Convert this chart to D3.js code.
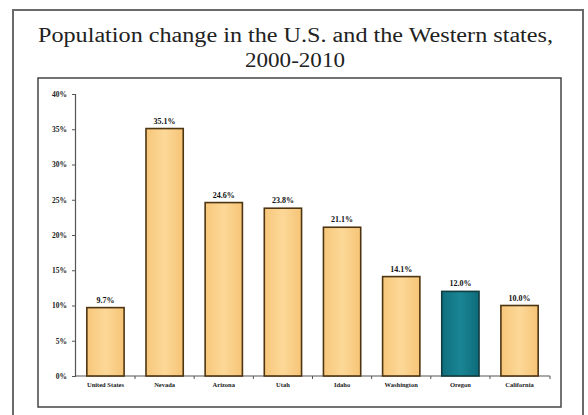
<!DOCTYPE html>
<html>
<head>
<meta charset="utf-8">
<script src="https://cdn.jsdelivr.net/npm/d3@7"></script>
<style>
  html, body { margin: 0; padding: 0; background: #fff; }
  svg { display: block; }
</style>
</head>
<body>
<svg id="chart" width="588" height="415"></svg>
<script>
// Percent population change, 2000-2010
const categories = ["United States", "Nevada", "Arizona", "Utah", "Idaho", "Washington", "Oregon", "California"];
const values = [9.7, 35.1, 24.6, 23.8, 21.1, 14.1, 12.0, 10.0];
const valueLabels = ["9.7%", "35.1%", "24.6%", "23.8%", "21.1%", "14.1%", "12.0%", "10.0%"];
const tickValues = [0, 5, 10, 15, 20, 25, 30, 35, 40];
const tickLabels = ["0%", "5%", "10%", "15%", "20%", "25%", "30%", "35%", "40%"];
const highlight = "Oregon";

const svg = d3.select("#chart");
const serif = "'Liberation Serif', 'Times New Roman', serif";

// gradient fill for the bars
const defs = svg.append("defs");
const g1 = defs.append("linearGradient").attr("id", "barFill").attr("x1", 0).attr("x2", 1).attr("y1", 0).attr("y2", 0);
g1.append("stop").attr("offset", "0%").attr("stop-color", "#f7c77a");
g1.append("stop").attr("offset", "50%").attr("stop-color", "#fcd898");
g1.append("stop").attr("offset", "100%").attr("stop-color", "#f6c476");
const g2 = defs.append("linearGradient").attr("id", "hiFill").attr("x1", 0).attr("x2", 1).attr("y1", 0).attr("y2", 0);
g2.append("stop").attr("offset", "0%").attr("stop-color", "#0f6f7e");
g2.append("stop").attr("offset", "50%").attr("stop-color", "#1a8595");
g2.append("stop").attr("offset", "100%").attr("stop-color", "#0e6b7a");

// outer frame
svg.append("rect").attr("x", 13).attr("y", 10).attr("width", 570).attr("height", 410)
  .attr("fill", "#fff").attr("stroke", "#6a6a6a").attr("stroke-width", 2);

// title, widened glyphs
const title = svg.append("g")
  .attr("font-family", serif).attr("font-size", 20).attr("fill", "#222");
title.append("text").attr("x", 38).attr("y", 42)
  .attr("textLength", 515).attr("lengthAdjust", "spacingAndGlyphs")
  .text("Population change in the U.S. and the Western states,");
title.append("text").attr("x", 245).attr("y", 67)
  .attr("textLength", 100).attr("lengthAdjust", "spacingAndGlyphs")
  .text("2000-2010");

// inner chart frame
svg.append("rect").attr("x", 38).attr("y", 78).attr("width", 523).attr("height", 329)
  .attr("fill", "#fff").attr("stroke", "#444").attr("stroke-width", 1.5);

const plot = { left: 75, right: 550, top: 94, bottom: 376 };

const x = d3.scaleBand().domain(categories).range([plot.left, plot.right]).paddingInner(0.37).paddingOuter(0.2);
const y = d3.scaleLinear().domain([0, 40]).range([plot.bottom, plot.top]);

// y axis
const yAxis = d3.axisLeft(y).tickValues(tickValues)
  .tickFormat((d, i) => tickLabels[i]).tickSize(3).tickPadding(5);
const ya = svg.append("g").attr("transform", `translate(${plot.left},0)`).call(yAxis);
ya.select(".domain").attr("stroke", "#555").attr("stroke-width", 1.2);
ya.selectAll(".tick line").attr("stroke", "#555");
ya.selectAll(".tick text").attr("font-family", serif)
  .attr("font-size", 7.5).attr("font-weight", "bold").attr("fill", "#222");

// x axis with ticks between categories
const xa = svg.append("g").attr("transform", `translate(0,${plot.bottom})`);
xa.append("line").attr("x1", plot.left).attr("x2", plot.right)
  .attr("y1", 0).attr("y2", 0).attr("stroke", "#555").attr("stroke-width", 1.2);
const step = x.step();
const bounds = categories.slice(1).map(c => x(c) - (step - x.bandwidth()) / 2).concat([plot.right]);
xa.selectAll("line.sep").data(bounds).join("line").attr("class", "sep")
  .attr("x1", d => d).attr("x2", d => d).attr("y1", 0).attr("y2", 3)
  .attr("stroke", "#555");
xa.selectAll("text").data(categories).join("text")
  .attr("x", d => x(d) + x.bandwidth() / 2).attr("y", 11)
  .attr("text-anchor", "middle")
  .attr("font-family", serif)
  .attr("font-size", 6.5).attr("font-weight", "bold").attr("fill", "#222")
  .text(d => d);

// bars
const data = categories.map((c, i) => ({ c, v: values[i], label: valueLabels[i] }));
svg.append("g").selectAll("rect").data(data).join("rect")
  .attr("x", d => x(d.c)).attr("width", x.bandwidth())
  .attr("y", d => y(d.v)).attr("height", d => y(0) - y(d.v))
  .attr("fill", d => d.c === highlight ? "url(#hiFill)" : "url(#barFill)")
  .attr("stroke", d => d.c === highlight ? "#123c40" : "#4e3512")
  .attr("stroke-width", 1.6);

// value labels
svg.append("g").selectAll("text").data(data).join("text")
  .attr("x", d => x(d.c) + x.bandwidth() / 2).attr("y", d => y(d.v) - 5)
  .attr("text-anchor", "middle")
  .attr("font-family", serif)
  .attr("font-size", 8).attr("font-weight", "bold").attr("fill", "#111")
  .text(d => d.label);
</script>
</body>
</html>
